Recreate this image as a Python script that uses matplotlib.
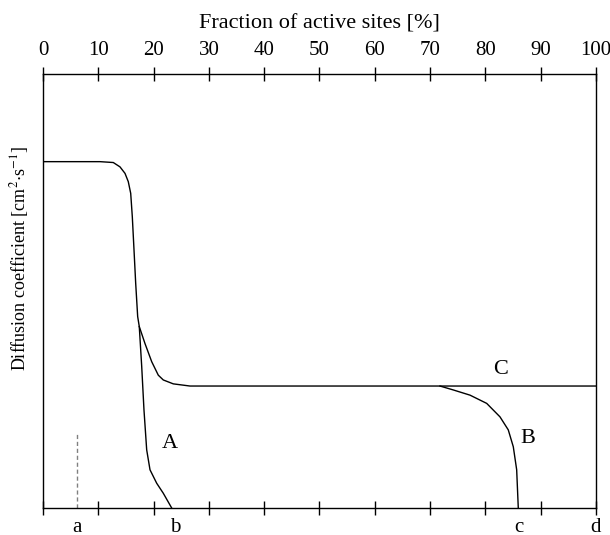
import matplotlib.pyplot as plt
import matplotlib.transforms as mtransforms

plt.rcParams['font.family'] = ['Liberation Serif', 'DejaVu Serif']
plt.rcParams['mathtext.fontset'] = 'stix'

# curve A: plateau then steep drop to b
a_x = [0, 10.31, 12.71, 13.92, 14.83, 15.42, 15.86, 16.15, 16.46, 16.76, 17.12, 17.41,
       17.85, 18.26, 18.75, 19.35, 20.56, 21.75, 23.27]
a_y = [0.798, 0.798, 0.796, 0.786, 0.771, 0.752, 0.725, 0.671, 0.594, 0.518, 0.441, 0.418,
       0.326, 0.226, 0.134, 0.088, 0.057, 0.034, 0.0]

# curve C: branches off A, levels out
c_x = [17.41, 18.44, 19.66, 20.85, 21.75, 23.56, 26.58, 100]
c_y = [0.418, 0.379, 0.337, 0.306, 0.295, 0.286, 0.281, 0.281]

# curve B: branches off C, drops to c
b_x = [71.79, 74.19, 77.22, 80.24, 82.64, 84.14, 85.05, 85.66, 85.95]
b_y = [0.281, 0.272, 0.260, 0.241, 0.210, 0.180, 0.141, 0.088, 0.0]

top_ticks = list(range(0, 101, 10))
marks = {'a': 6.2, 'b': 23.9, 'c': 86.0, 'd': 100}

fig = plt.figure(figsize=(6.1, 5.35), dpi=100)
ax = fig.add_axes([0.0705, 0.0505, 0.9065, 0.8112])

ax.plot(a_x, a_y, color='black', lw=1.0)
ax.plot(c_x, c_y, color='black', lw=1.0)
ax.plot(b_x, b_y, color='black', lw=1.0)
ax.plot([marks['a'], marks['a']], [0, 0.175], color='gray', lw=1.0, ls=(0, (3, 2)))

ax.set_xlim(0, 100)
ax.set_ylim(0, 1)

ax.set_yticks([])
ax.set_xticks(top_ticks)
ax.tick_params(axis='x', which='both', top=True, bottom=True, labeltop=True, labelbottom=False,
               direction='inout', length=10, width=1.0, labelsize=15, pad=5)
for s in ax.spines.values():
    s.set_linewidth(1.0)

ax.set_xlabel('Fraction of active sites [%]', fontsize=16, labelpad=9)
ax.xaxis.set_label_position('top')
ax.set_ylabel(r'Diffusion coefficient [cm$^{2}$$\cdot$s$^{-1}$]', fontsize=13, labelpad=9, y=0.576)

ax.text(22.97, 0.149, 'A', fontsize=16, ha='center', va='center')
ax.text(87.7, 0.16, 'B', fontsize=16, ha='center', va='center')
ax.text(82.8, 0.320, 'C', fontsize=16, ha='center', va='center')

trans = mtransforms.blended_transform_factory(ax.transData, ax.transAxes)
for lab, xv in marks.items():
    ax.text(xv, -0.022, lab, transform=trans, fontsize=15, ha='center', va='top')

fig.savefig('out.png', dpi=100)
